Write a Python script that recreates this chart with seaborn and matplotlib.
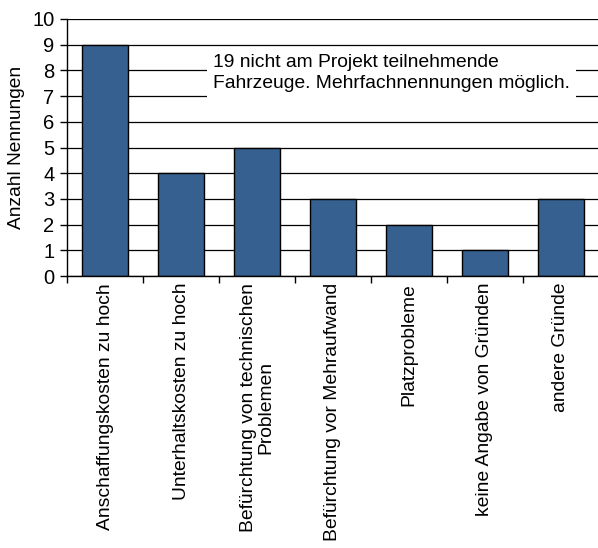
import matplotlib
matplotlib.use("Agg")
import matplotlib.pyplot as plt
import seaborn as sns
import pandas as pd
from matplotlib.patches import Rectangle

categories = [
    "Anschaffungskosten zu hoch",
    "Unterhaltskosten zu hoch",
    "Befürchtung von technischen\nProblemen",
    "Befürchtung vor Mehraufwand",
    "Platzprobleme",
    "keine Angabe von Gründen",
    "andere Gründe",
]
values = [9, 4, 5, 3, 2, 1, 3]
y_ticks = [0, 1, 2, 3, 4, 5, 6, 7, 8, 9, 10]
note = "19 nicht am Projekt teilnehmende\nFahrzeuge. Mehrfachnennungen möglich."
ylabel = "Anzahl Nennungen"

sns.set_theme(style="white")
plt.rcParams['font.family'] = ['Liberation Sans', 'DejaVu Sans']

df = pd.DataFrame({"cat": categories, "val": values})

fig = plt.figure(figsize=(5.98, 5.48), dpi=100)
ax = fig.add_axes([67/598, 1-276/548, (599-67)/598, (276-19)/548])

sns.barplot(data=df, x="cat", y="val", color="#36608F", saturation=1,
            width=0.6, edgecolor="black", linewidth=1.0, ax=ax, zorder=3)

ax.set_xlim(-0.5, len(categories) - 0.5)
ax.set_ylim(0, 10)
ax.set_yticks(y_ticks)
ax.set_yticklabels([str(t) for t in y_ticks], fontsize=14.5, color="black")
ax.yaxis.grid(True, color="black", linewidth=0.9, zorder=0)
ax.set_axisbelow(True)

ax.set_xticks(range(len(categories)))
ax.set_xticklabels(categories, rotation=90, fontsize=13.9, color="black",
                   va="top", ha="center", multialignment="center", linespacing=1.0)
ax.tick_params(axis="x", which="major", length=0, pad=5)
ax.set_xticks([i - 0.5 for i in range(len(categories) + 1)], minor=True)
ax.tick_params(axis="x", which="minor", length=5, width=1, color="black", direction="out", bottom=True)
ax.tick_params(axis="y", length=5, width=1, color="black", direction="out", left=True, pad=4)

ax.set_xlabel("")
ax.set_ylabel(ylabel, fontsize=13.8, color="black", labelpad=5)

for s in ["top", "right"]:
    ax.spines[s].set_visible(False)
for s in ["left", "bottom"]:
    ax.spines[s].set_visible(True)
    ax.spines[s].set_color("black")
    ax.spines[s].set_linewidth(1.0)
ax.spines["bottom"].set_zorder(5)

x0 = (207-67)/532
x1 = (576-67)/532
y0 = (276-99)/257
y1 = (276-49)/257
ax.add_patch(Rectangle((x0, y0), x1-x0, y1-y0, transform=ax.transAxes,
                       facecolor="white", edgecolor="none", zorder=2))
ax.text((213-67)/532, (276-54)/257, note, transform=ax.transAxes,
        fontsize=13.9, va="top", ha="left", color="black", linespacing=1.3, zorder=4)

fig.savefig("out.png", dpi=100)
